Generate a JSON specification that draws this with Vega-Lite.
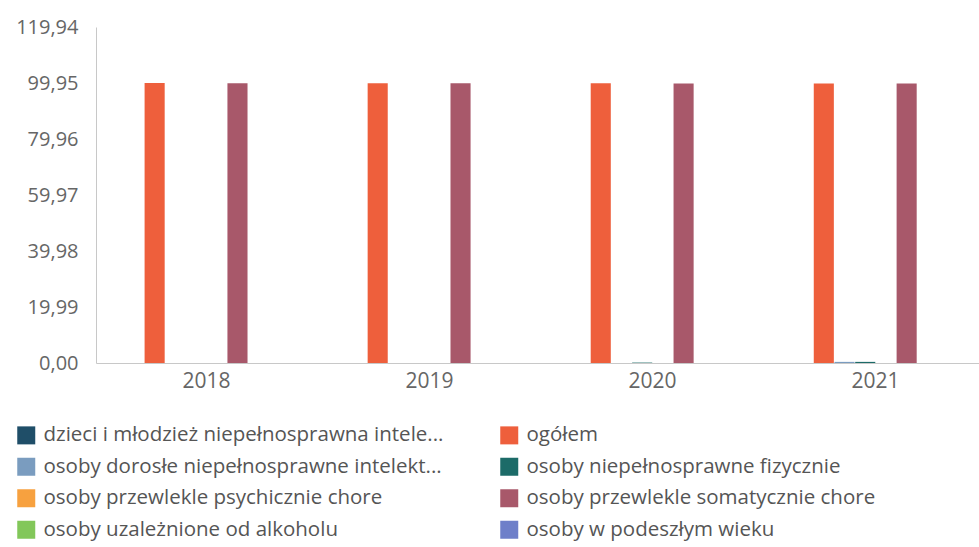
{
  "$schema": "https://vega.github.io/schema/vega-lite/v6.json",
  "width": 890,
  "height": 336,
  "autosize": {"type": "none"},
  "padding": {"left": 96, "top": 27, "right": 0, "bottom": 184},
  "background": "white",
  "config": {"view": {"stroke": null}, "font": "Open Sans"},
  "data": {
    "values": [
      {"rok": "2018", "kategoria": "dzieci i młodzież niepełnosprawna intelektualnie", "wartosc": 0},
      {"rok": "2018", "kategoria": "ogółem", "wartosc": 99.95},
      {"rok": "2018", "kategoria": "osoby dorosłe niepełnosprawne intelektualnie", "wartosc": 0},
      {"rok": "2018", "kategoria": "osoby niepełnosprawne fizycznie", "wartosc": 0},
      {"rok": "2018", "kategoria": "osoby przewlekle psychicznie chore", "wartosc": 0},
      {"rok": "2018", "kategoria": "osoby przewlekle somatycznie chore", "wartosc": 99.9},
      {"rok": "2018", "kategoria": "osoby uzależnione od alkoholu", "wartosc": 0},
      {"rok": "2018", "kategoria": "osoby w podeszłym wieku", "wartosc": 0},
      {"rok": "2019", "kategoria": "dzieci i młodzież niepełnosprawna intelektualnie", "wartosc": 0},
      {"rok": "2019", "kategoria": "ogółem", "wartosc": 99.9},
      {"rok": "2019", "kategoria": "osoby dorosłe niepełnosprawne intelektualnie", "wartosc": 0},
      {"rok": "2019", "kategoria": "osoby niepełnosprawne fizycznie", "wartosc": 0},
      {"rok": "2019", "kategoria": "osoby przewlekle psychicznie chore", "wartosc": 0},
      {"rok": "2019", "kategoria": "osoby przewlekle somatycznie chore", "wartosc": 99.85},
      {"rok": "2019", "kategoria": "osoby uzależnione od alkoholu", "wartosc": 0},
      {"rok": "2019", "kategoria": "osoby w podeszłym wieku", "wartosc": 0},
      {"rok": "2020", "kategoria": "dzieci i młodzież niepełnosprawna intelektualnie", "wartosc": 0},
      {"rok": "2020", "kategoria": "ogółem", "wartosc": 99.85},
      {"rok": "2020", "kategoria": "osoby dorosłe niepełnosprawne intelektualnie", "wartosc": 0},
      {"rok": "2020", "kategoria": "osoby niepełnosprawne fizycznie", "wartosc": 0.15},
      {"rok": "2020", "kategoria": "osoby przewlekle psychicznie chore", "wartosc": 0},
      {"rok": "2020", "kategoria": "osoby przewlekle somatycznie chore", "wartosc": 99.8},
      {"rok": "2020", "kategoria": "osoby uzależnione od alkoholu", "wartosc": 0},
      {"rok": "2020", "kategoria": "osoby w podeszłym wieku", "wartosc": 0},
      {"rok": "2021", "kategoria": "dzieci i młodzież niepełnosprawna intelektualnie", "wartosc": 0},
      {"rok": "2021", "kategoria": "ogółem", "wartosc": 99.8},
      {"rok": "2021", "kategoria": "osoby dorosłe niepełnosprawne intelektualnie", "wartosc": 0.4},
      {"rok": "2021", "kategoria": "osoby niepełnosprawne fizycznie", "wartosc": 0.4},
      {"rok": "2021", "kategoria": "osoby przewlekle psychicznie chore", "wartosc": 0},
      {"rok": "2021", "kategoria": "osoby przewlekle somatycznie chore", "wartosc": 99.75},
      {"rok": "2021", "kategoria": "osoby uzależnione od alkoholu", "wartosc": 0},
      {"rok": "2021", "kategoria": "osoby w podeszłym wieku", "wartosc": 0}
    ]
  },
  "mark": {"type": "bar"},
  "encoding": {
    "x": {
      "field": "rok",
      "type": "nominal",
      "scale": {"paddingInner": 0.26, "paddingOuter": 0.125},
      "axis": {"title": null, "labelAngle": 0, "labelFontSize": 21, "labelColor": "#666666", "ticks": false, "domainColor": "#c8c8c8", "labelPadding": 7}
    },
    "xOffset": {"field": "kategoria", "type": "nominal", "scale": {"paddingInner": 0.03}},
    "y": {
      "field": "wartosc",
      "type": "quantitative",
      "scale": {"domain": [0, 119.94], "nice": false},
      "axis": {
        "title": null,
        "values": [0, 19.99, 39.98, 59.97, 79.96, 99.95, 119.94],
        "labelExpr": "replace(format(datum.value, '.2f'), '.', ',')",
        "grid": false,
        "ticks": false,
        "domainColor": "#c8c8c8",
        "labelFontSize": 20,
        "labelColor": "#666666",
        "labelPadding": 18
      }
    },
    "color": {
      "field": "kategoria",
      "type": "nominal",
      "scale": {
        "domain": ["dzieci i młodzież niepełnosprawna intelektualnie", "ogółem", "osoby dorosłe niepełnosprawne intelektualnie", "osoby niepełnosprawne fizycznie", "osoby przewlekle psychicznie chore", "osoby przewlekle somatycznie chore", "osoby uzależnione od alkoholu", "osoby w podeszłym wieku"],
        "range": ["#1f4e68", "#ee5f3c", "#7a9cbf", "#1c6b68", "#f7a13f", "#a8586a", "#82c75a", "#6e7fc9"]
      },
      "legend": {
        "orient": "none",
        "direction": "horizontal",
        "legendX": -80,
        "legendY": 398,
        "columns": 2,
        "title": null,
        "symbolType": "square",
        "symbolSize": 324,
        "symbolStrokeWidth": 0,
        "symbolOpacity": 1,
        "labelFontSize": 20.5,
        "labelColor": "#555555",
        "rowPadding": 10.5,
        "columnPadding": 55,
        "labelOffset": 7,
        "labelLimit": 0,
        "labelExpr": "indexof(datum.label, 'dzieci') == 0 ? substring(datum.label, 0, 40) + '...' : indexof(datum.label, 'osoby dorosłe') == 0 ? substring(datum.label, 0, 38) + '...' : datum.label"
      }
    }
  }
}
